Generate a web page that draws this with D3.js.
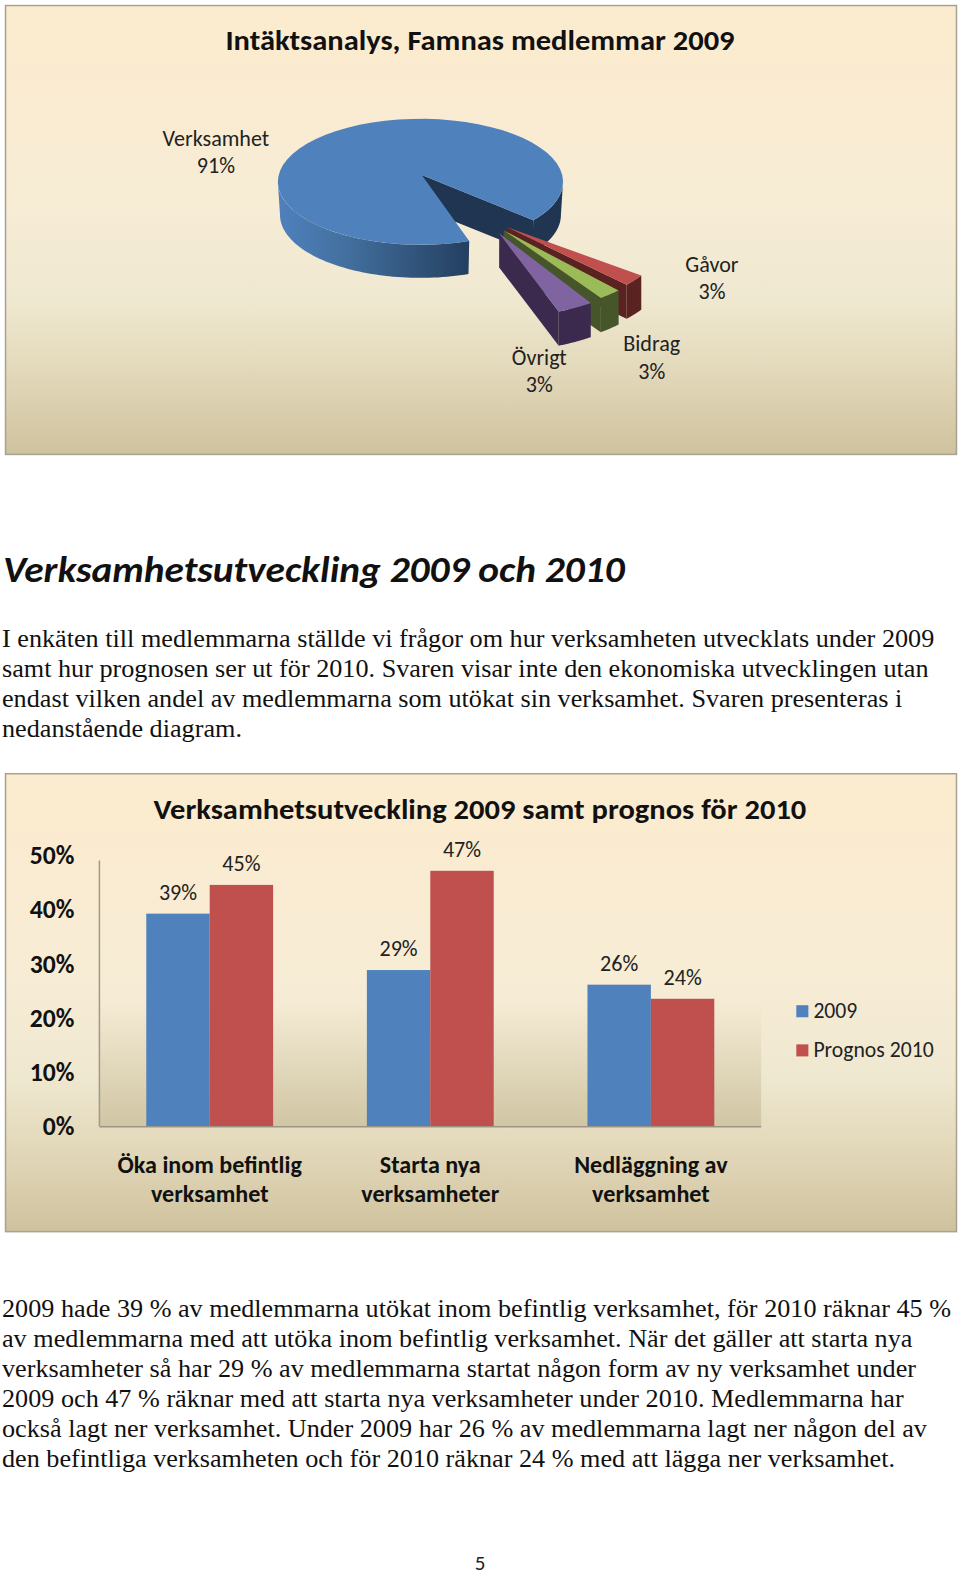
<!DOCTYPE html>
<html><head><meta charset="utf-8">
<script src="https://cdn.jsdelivr.net/npm/d3@7/dist/d3.min.js"></script>
<style>html,body{margin:0;padding:0;background:#fff}svg{display:block}</style>
</head><body><svg id="c" width="960" height="1576" viewBox="0 0 956 1569.4"></svg>
<script>
const pieLabels=["Verksamhet","Gåvor","Bidrag","Övrigt"];
const pieValues=[91,3,3,3];
const pieColors=["#4F81BD","#C0504D","#9BBB59","#8064A2"];
const pieDark=["#1F3552","#5A2220","#46562A","#3B2A4E"];
const categories=[["Öka inom befintlig","verksamhet"],["Starta nya","verksamheter"],["Nedläggning av","verksamhet"]];
const series2009=[39.2,28.8,26.1];
const series2010=[44.5,47.1,23.5];
const seriesNames=["2009","Prognos 2010"];
const ticks=[0,10,20,30,40,50];
const para1=["I enkäten till medlemmarna ställde vi frågor om hur verksamheten utvecklats under 2009","samt hur prognosen ser ut för 2010. Svaren visar inte den ekonomiska utvecklingen utan","endast vilken andel av medlemmarna som utökat sin verksamhet. Svaren presenteras i","nedanstående diagram."];
const para2=["2009 hade 39 % av medlemmarna utökat inom befintlig verksamhet, för 2010 räknar 45 %","av medlemmarna med att utöka inom befintlig verksamhet. När det gäller att starta nya","verksamheter så har 29 % av medlemmarna startat någon form av ny verksamhet under","2009 och 47 % räknar med att starta nya verksamheter under 2010. Medlemmarna har","också lagt ner verksamhet. Under 2009 har 26 % av medlemmarna lagt ner någon del av","den befintliga verksamheten och för 2010 räknar 24 % med att lägga ner verksamhet."];

const svg=d3.select("#c"), defs=svg.append("defs");
const CAL="Carlito,Calibri,Lato,sans-serif", SER="'Liberation Serif','Times New Roman',serif";
function grad(id,stops,horizontal){
  const g=defs.append("linearGradient").attr("id",id).attr("x1",0).attr("y1",0).attr("x2",horizontal?1:0).attr("y2",horizontal?0:1);
  stops.forEach(s=>g.append("stop").attr("offset",s[0]).attr("stop-color",s[1]).attr("stop-opacity",s[2]===undefined?1:s[2]));
}
grad("panel",[[0,"#FCEBCE"],[.45,"#F7ECD5"],[.66,"#EFE8D0"],[.8,"#E4DABC"],[1,"#CFC29E"]]);
grad("plot",[[0,"#C8BC98",0],[.55,"#C8BC98",0],[1,"#C8BC98",.7]]);
grad("wall",[[0,"#4F81BD"],[.35,"#43709F"],[1,"#233F60"]],true);
function panel(x,y,w,h){svg.append("rect").attr("x",x+.5).attr("y",y+.5).attr("width",w).attr("height",h).attr("fill","url(#panel)").attr("stroke","#A8A290").attr("stroke-width",1.5);}
function txt(s,x,y,size,o={}){
  return svg.append("text").attr("x",x).attr("y",y).attr("font-family",o.f||CAL).attr("font-size",size)
   .attr("font-weight",o.w||400).attr("font-style",o.i||"normal").attr("fill",o.c||"#111").attr("text-anchor",o.a||"start").text(s);
}
// ---------- pie
panel(5,5,947,447);
txt("Intäktsanalys, Famnas medlemmar 2009",478,50,28,{w:700,a:"middle"}).attr("textLength",507).attr("lengthAdjust","spacingAndGlyphs");
const deg=Math.PI/180;
const pie=d3.pie().sort(null).value(d=>d).startAngle(160*deg).endAngle(520*deg)(pieValues);
const scr=a=>a/deg-90; // screen angle in degrees
const warp=d3.scaleLinear().domain([37.6,59.2,70]).range([34,55,70]);
const blue={cx:418.7,cy:181,rx:142,ry:62.7,depth:33,apex:[420,174.3]};
const pt=(g,t,dy=0,k=1)=>[g.cx+g.rx*k*Math.cos(t*deg),g.cy+g.ry*Math.sin(t*deg)+dy];
const line=d3.line();
const arcPts=(g,a,b,dy,k)=>d3.range(0,61).map(i=>pt(g,a+(b-a)*i/60,dy,k));
const poly=(pts,fill)=>svg.append("path").attr("d",line(pts)+"Z").attr("fill",fill);
// blue slice
const b0=scr(pie[0].startAngle), b1=scr(pie[0].endAngle);
const cutEnd=pt(blue,b1);
poly([blue.apex,cutEnd,[cutEnd[0],cutEnd[1]+blue.depth],[blue.apex[0],blue.apex[1]+blue.depth]],pieDark[0]);
poly(arcPts(blue,360,b1,0,1).concat(arcPts(blue,b1,360,blue.depth,.985)),pieDark[0]);
poly(arcPts(blue,b0,180,0,1).concat(arcPts(blue,180,b0,blue.depth,.985)),"url(#wall)");
poly([blue.apex].concat(arcPts(blue,b0,b1,0,1)),pieColors[0]);
// exploded slices, back to front
const ex={cx:486,cy:211,rx:164,ry:83.6,depth:34,e:24};
[1,2,3].forEach(i=>{
  const d=pie[i], s=warp(scr(d.startAngle)-360)+1.2, t=warp(scr(d.endAngle)-360)-1.2, m=(s+t)/2;
  const g={cx:ex.cx+ex.e*Math.cos(m*deg),cy:ex.cy+ex.e*Math.sin(m*deg),rx:ex.rx,ry:ex.ry};
  const ap=[g.cx,g.cy], arc=arcPts(g,s,t,0,1), low=arcPts(g,t,s,ex.depth,1), e=pt(g,t);
  poly([ap,e,[e[0],e[1]+ex.depth],[ap[0],ap[1]+ex.depth]],pieDark[i]);
  poly(arc.concat(low),pieDark[i]);
  poly([ap].concat(arc),pieColors[i]);
});
const pieLabelPos=[[215,145],[709,271],[649,350],[537,363]];
pieLabels.forEach((l,i)=>{
  const p=pieLabelPos[i];
  txt(l,p[0],p[1],22,{a:"middle",c:"#222"});
  txt(Math.round(pieValues[i])+"%",p[0],p[1]+27,22,{a:"middle",c:"#222"});
});
// ---------- heading + body
txt("Verksamhetsutveckling 2009 och 2010",3,580,36,{w:700,i:"italic"}).attr("textLength",619).attr("lengthAdjust","spacingAndGlyphs");
para1.forEach((l,i)=>txt(l,2,644+i*30,26.1,{f:SER}));
para2.forEach((l,i)=>txt(l,2,1311+i*30,26.1,{f:SER}));
txt("5",478,1563,21,{a:"middle",c:"#222"});
// ---------- bars
panel(5,770,947,456);
txt("Verksamhetsutveckling 2009 samt prognos för 2010",478,816,29,{w:700,a:"middle"}).attr("textLength",650).attr("lengthAdjust","spacingAndGlyphs");
const plotL=99,plotR=758;
const y=d3.scaleLinear().domain([0,50]).range([1121.5,851.5]);
const x0=d3.scaleBand().domain(d3.range(categories.length)).range([plotL,plotR]).paddingInner(.425).paddingOuter(.2125);
const x1=d3.scaleBand().domain([0,1]).range([0,x0.bandwidth()]);
svg.append("rect").attr("x",plotL).attr("y",y(50)).attr("width",plotR-plotL).attr("height",y(0)-y(50)).attr("fill","url(#plot)");
const barCols=[pieColors[0],pieColors[1]];
[series2009,series2010].forEach((vals,s)=>{
  svg.append("g").selectAll("rect").data(vals).join("rect")
   .attr("x",(d,i)=>x0(i)+x1(s)).attr("y",d=>y(d)).attr("width",x1.bandwidth()).attr("height",d=>y(0)-y(d)).attr("fill",barCols[s]);
  vals.forEach((d,i)=>txt(Math.round(d)+"%",x0(i)+x1(s)+x1.bandwidth()/2,y(d)-14,22,{a:"middle",c:"#222"}));
});
svg.append("line").attr("x1",plotL).attr("x2",plotR).attr("y1",y(0)+.5).attr("y2",y(0)+.5).attr("stroke","#9A9585").attr("stroke-width",1.5);
svg.append("line").attr("x1",plotL).attr("x2",plotL).attr("y1",y(49)).attr("y2",y(0)).attr("stroke","#A09A88").attr("stroke-width",1.5);
ticks.forEach(t=>txt(t+"%",74,y(t)+9,25.5,{w:700,a:"end"}));
categories.forEach((c,i)=>c.forEach((l,j)=>txt(l,x0(i)+x0.bandwidth()/2,1168+j*29,24,{w:700,a:"middle"})));
const legY=[1007,1046];
seriesNames.forEach((n,i)=>{
  svg.append("rect").attr("x",793).attr("y",legY[i]-6).attr("width",12).attr("height",12).attr("fill",barCols[i]);
  txt(n,810,legY[i]+7,21.6,{c:"#222"});
});
</script></body></html>
